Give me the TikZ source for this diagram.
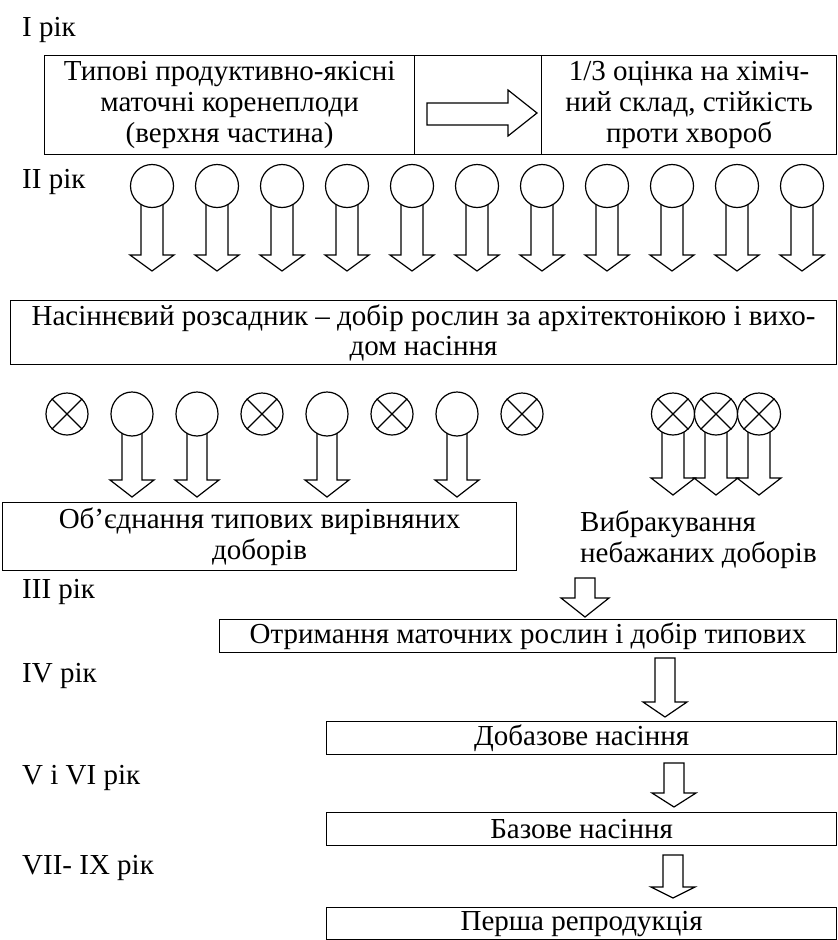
\documentclass[tikz,border=0pt]{standalone}
\usepackage{fontspec}
\setmainfont{Liberation Serif}
\usetikzlibrary{shapes.geometric}
\newcommand\dnarrow[6]{% x, shaft top, head top, tip, shaft half, head half
  \draw[arr] ({#1-#5},#2) -- ({#1-#5},#3) -- ({#1-#6},#3) -- (#1,#4) -- ({#1+#6},#3) -- ({#1+#5},#3) -- ({#1+#5},#2) -- cycle;}
\begin{document}
\begin{tikzpicture}[x=1pt,y=-1pt,
  txt/.style={font=\fontsize{29}{32}\selectfont},
  box/.style={txt, draw, line width=1.2pt, inner sep=0pt, anchor=north west, align=center},
  lbl/.style={txt, anchor=base west, inner sep=0pt},
  arr/.style={draw, fill=white, line width=1.2pt, line join=miter},
  circ/.style={draw, fill=white, ellipse, minimum width=43pt, minimum height=43pt, inner sep=0pt, line width=1.2pt},
  xcirc/.style={circ, append after command={
      (\tikzlastnode.45) edge[line width=1.2pt] (\tikzlastnode.225)
      (\tikzlastnode.135) edge[line width=1.2pt] (\tikzlastnode.315)}},
]
\useasboundingbox[fill=white] (0,0) rectangle (838,940);

% year labels
\node[lbl] (y1) at (22,36) {I рік};
\node[lbl] (y2) at (22,188) {II рік};
\node[lbl] (y3) at (22,598) {III рік};
\node[lbl] (y4) at (22,682) {IV рік};
\node[lbl] (y5) at (22,784) {V і VI рік};
\node[lbl] (y6) at (22,874) {VII- IX рік};

% top box
\node[box, minimum width=370pt, minimum height=99pt, font=\fontsize{29}{31}\selectfont] (t1) at (44,55)
  {Типові продуктивно-якісні\\маточні коренеплоди\\(верхня частина)};
\node[box, minimum width=127pt, minimum height=99pt] (t2) at (414,55) {};
\node[box, minimum width=295pt, minimum height=99pt, font=\fontsize{29}{31}\selectfont] (t3) at (541,55)
  {1/3 оцінка на хіміч-\\ний склад, стійкість\\проти хвороб};
\draw[arr] (427,103) -- (508,103) -- (508,90) -- (537,113) -- (508,136) -- (508,125) -- (427,125) -- cycle;

% row 1
\foreach \i in {0,...,10} {
  \pgfmathsetmacro\cx{152+65*\i}
  \dnarrow{\cx}{200}{255}{271}{11}{22}
  \node[circ] (a\i) at (\cx,186) {};
}

% nursery box
\node[box, minimum width=826pt, minimum height=64pt, font=\fontsize{29}{30}\selectfont] (n) at (10,300)
  {Насіннєвий розсадник – добір рослин за архітектонікою і вихо-\\дом насіння};

% row 2
\foreach \cx/\nm in {132/b1,197/b2,327/b3,457/b4} {
  \dnarrow{\cx}{428}{480}{497}{10}{22}
  \node[circ, minimum width=42pt, minimum height=44pt] (\nm) at (\cx,414) {};
}
\foreach \cx/\nm in {67/c1,262/c2,392/c3,522/c4} {
  \node[xcirc, minimum width=42pt, minimum height=42pt] (\nm) at (\cx,414) {};
}
\foreach \cx in {673,716,759} {
  \dnarrow{\cx}{428}{478}{495}{11}{22}
}
\foreach \cx/\nm in {673/d1,716/d2,759/d3} {
  \node[xcirc, minimum width=43pt, minimum height=42pt] (\nm) at (\cx,414) {};
}

\node[box, minimum width=514pt, minimum height=68pt, font=\fontsize{29}{31}\selectfont] (u) at (2,502)
  {Об’єднання типових вирівняних\\доборів};
\node[txt, anchor=base west, inner sep=0pt, align=left, font=\fontsize{29}{31}\selectfont] (v) at (580,562)
  {Вибракування\\небажаних доборів};

% lower chain
\dnarrow{585}{578}{598}{617}{10}{24}
\node[box, minimum width=617pt, minimum height=33pt] (o) at (219,619) {Отримання маточних рослин і добір типових};
\dnarrow{665}{658}{702}{717}{10}{22}
\node[box, minimum width=510pt, minimum height=33pt] (d) at (326,721) {Добазове насіння};
\dnarrow{674}{763}{793}{807}{10}{22}
\node[box, minimum width=510pt, minimum height=33pt] (b) at (326,812) {Базове насіння};
\dnarrow{673}{855}{887}{898}{10}{22}
\node[box, minimum width=510pt, minimum height=32pt] (p) at (326,907) {Перша репродукція};
\end{tikzpicture}
\end{document}
